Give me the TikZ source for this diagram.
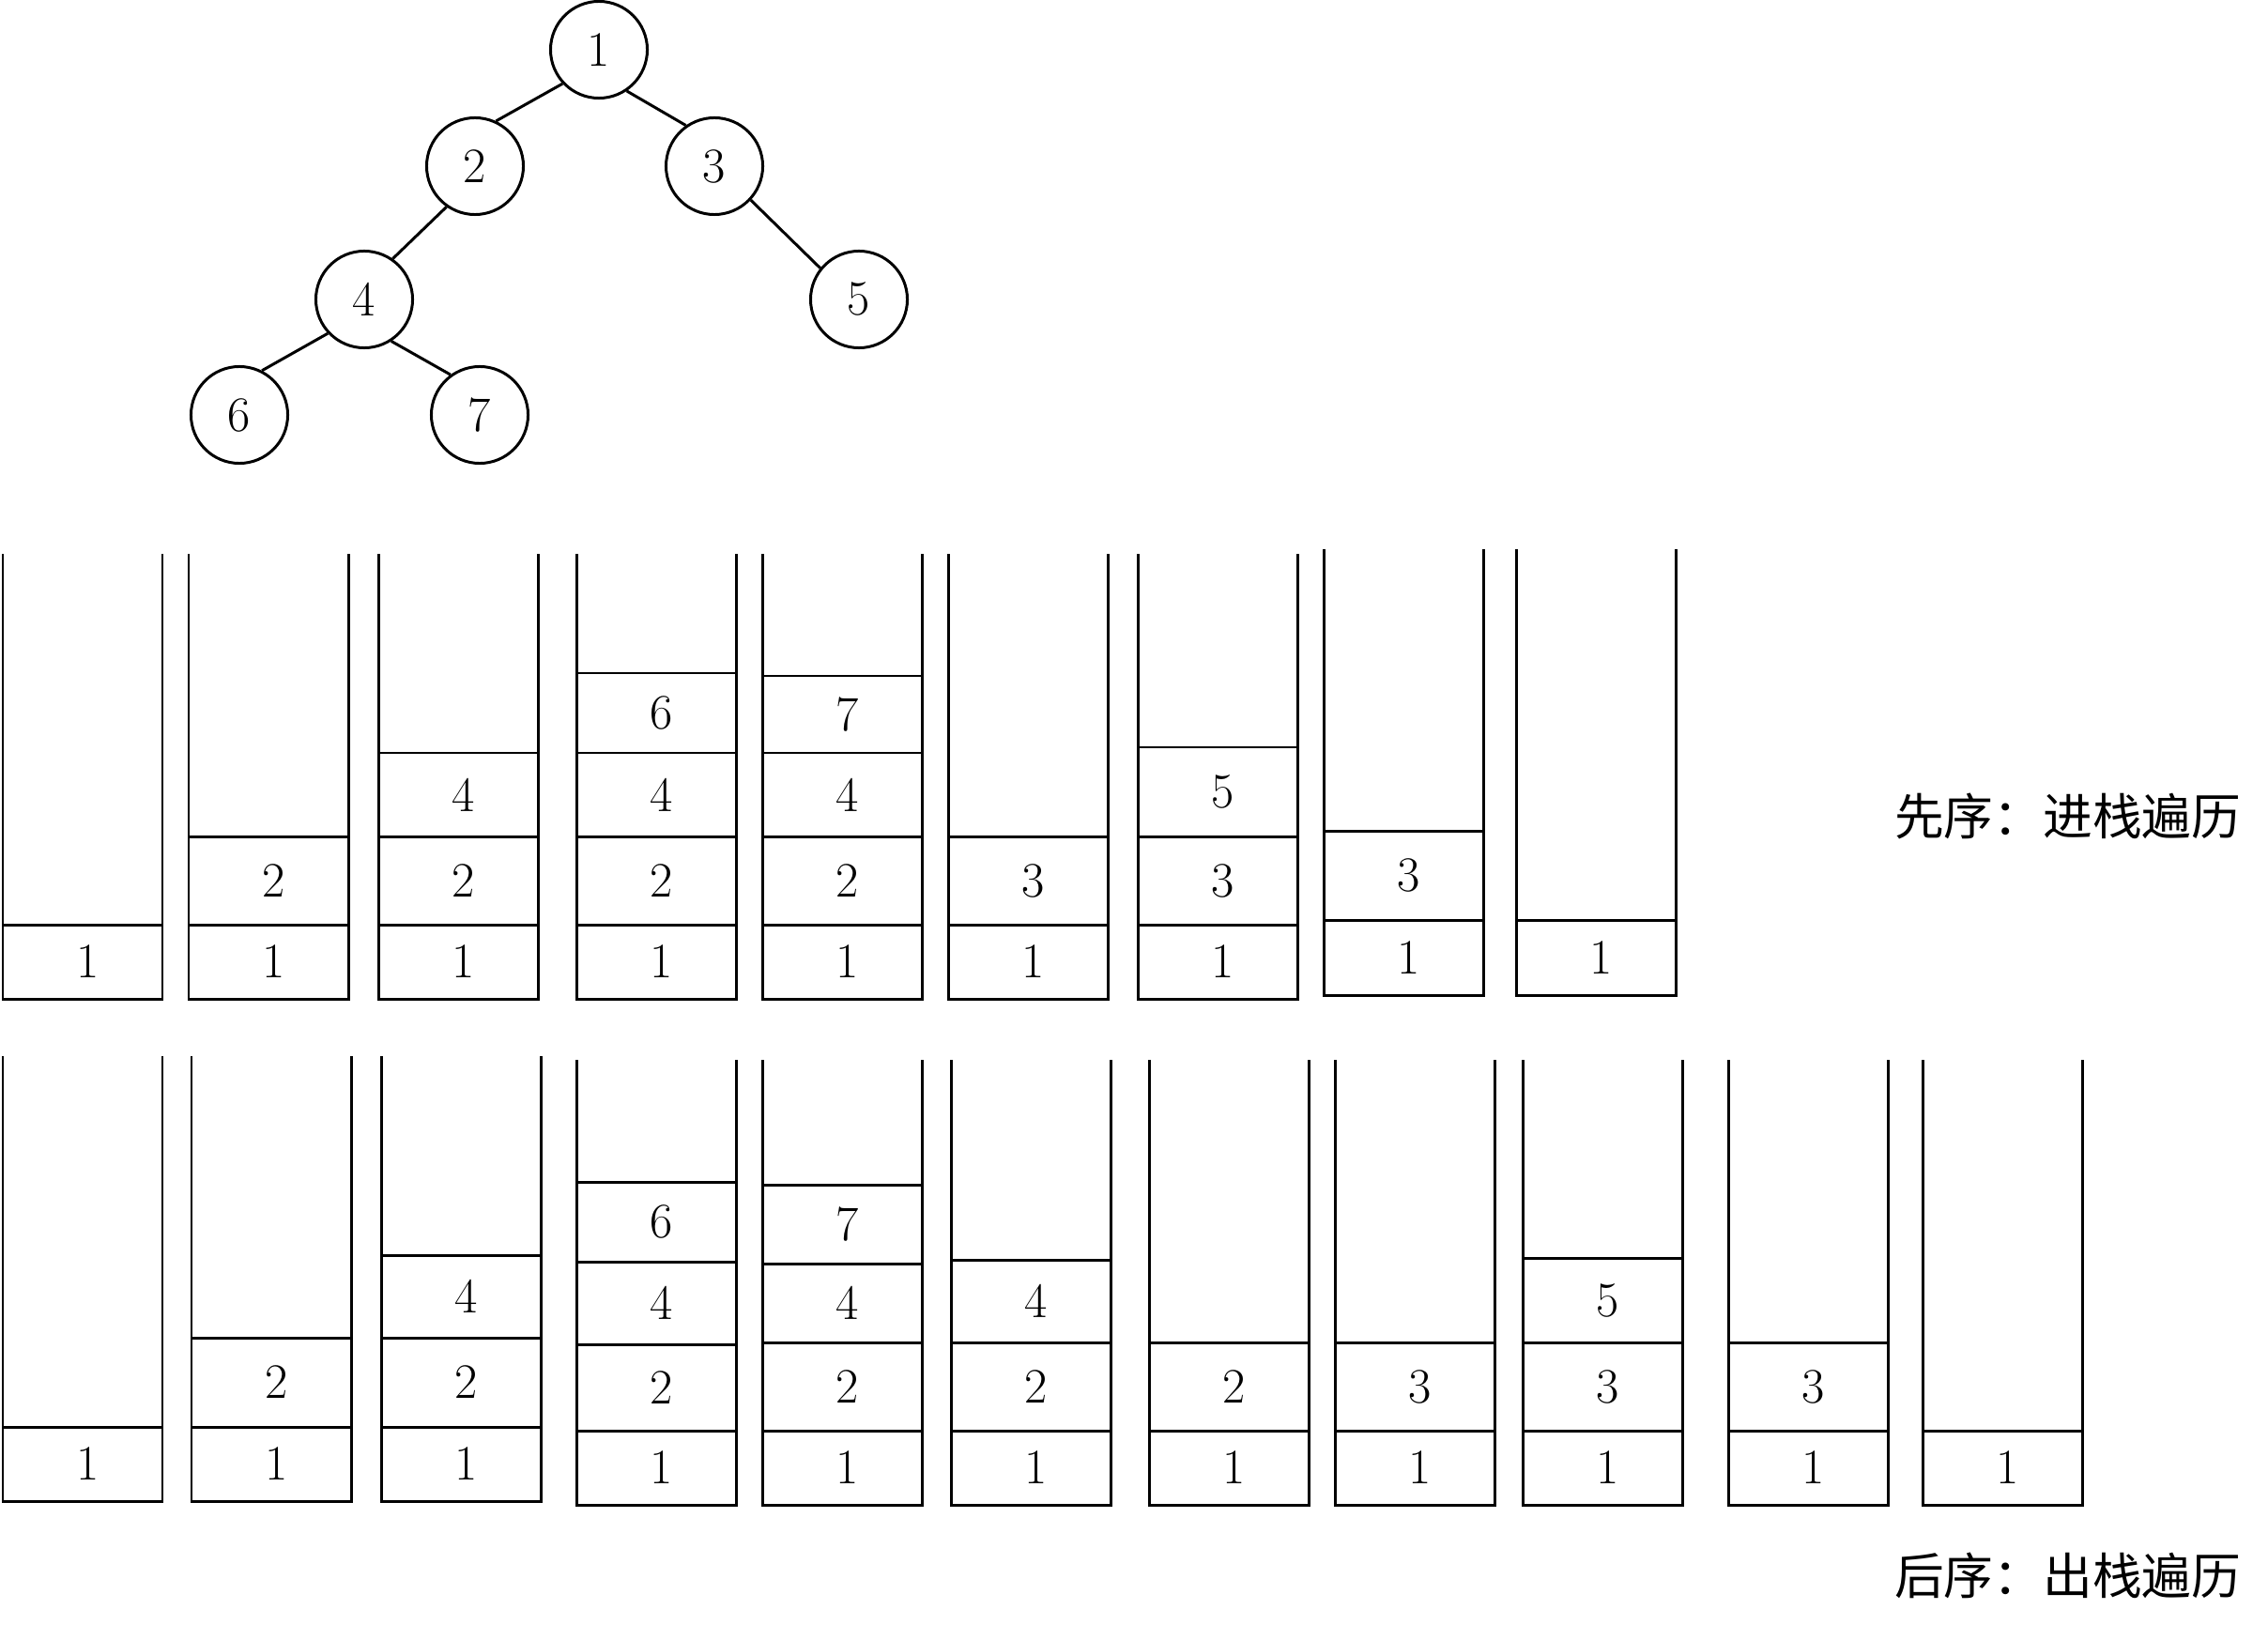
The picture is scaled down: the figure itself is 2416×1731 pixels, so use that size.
\documentclass[tikz,border=0pt]{standalone}
\usepackage{fontspec}
\newfontfamily\cjk{Noto Sans CJK SC}
\usetikzlibrary{calc}
\tikzset{
    vertex/.style = {circle,
                    fill=white,
                    draw=black,
                    text=black,
                    line width=0.85pt,
                    inner sep=0pt,
                    minimum size=1.03cm,
                    font=\fontsize{15}{18}\selectfont},
    num/.style =    {inner sep=0pt,
                    text=black,
                    font=\fontsize{15}{18}\selectfont},
    wall/.style =   {draw=black,
                    line width=0.85pt},
    caption/.style ={anchor=east,
                    inner sep=0pt,
                    font=\cjk\fontsize{15}{18}\selectfont},
    -}
% #1 name, #2 left, #3 top, #4 bottom, #5 cells (top of cell/label)
\newcommand{\drawstack}[5]{%
    \draw[wall] (#2,#3) -- (#2,#4) -- (#2+170,#4) -- (#2+170,#3);
    \foreach \yt/\lab [count=\k, remember=\yt as \yb (initially #4)] in {#5} {
        \draw[wall] (#2,\yt) -- (#2+170,\yt);
        \node[num] (#1-\k) at (#2+91,{(\yb+\yt)/2}) {\lab};
    }
}
\begin{document}
\begin{tikzpicture}[x=0.01cm,y=-0.01cm]
        \useasboundingbox (0,0) rectangle (2416,1731);
                % tree
                \node[vertex]       (n1) at (638,53)    {1};
                \node[vertex]       (n2) at (506,177)   {2};
                \node[vertex]       (n3) at (761,177)   {3};
                \node[vertex]       (n4) at (388,319)   {4};
                \node[vertex]       (n5) at (915,319)   {5};
                \node[vertex]       (n6) at (255,442)   {6};
                \node[vertex]       (n7) at (511,442)   {7};
                \draw[wall] (n1.223) -- (n2.65);
                \draw[wall] (n1.304) -- (n3.125);
                \draw[wall] (n2.235) -- (n4.55);
                \draw[wall] (n3.317) -- (n5.141);
                \draw[wall] (n4.223) -- (n6.63);
                \draw[wall] (n4.303) -- (n7.126);
                % preorder: push
                \drawstack{p1}{3}{590}{1064}{985/1}
                \drawstack{p2}{201}{590}{1064}{985/1,891/2}
                \drawstack{p3}{403}{590}{1064}{985/1,891/2,802/4}
                \drawstack{p4}{614}{590}{1064}{985/1,891/2,802/4,717/6}
                \drawstack{p5}{812}{590}{1064}{985/1,891/2,802/4,720/7}
                \drawstack{p6}{1010}{590}{1064}{985/1,891/3}
                \drawstack{p7}{1212}{590}{1064}{985/1,891/3,796/5}
                \drawstack{p8}{1410}{585}{1060}{980/1,885/3}
                \drawstack{p9}{1615}{585}{1060}{980/1}
                \node[caption] (pre) at (2388,869) {先序：进栈遍历};
                % postorder: pop
                \drawstack{q1}{3}{1125}{1599}{1520/1}
                \drawstack{q2}{204}{1125}{1599}{1520/1,1425/2}
                \drawstack{q3}{406}{1125}{1599}{1520/1,1425/2,1337/4}
                \drawstack{q4}{614}{1129}{1603}{1524/1,1432/2,1344/4,1259/6}
                \drawstack{q5}{812}{1129}{1603}{1524/1,1430/2,1346/4,1262/7}
                \drawstack{q6}{1013}{1129}{1603}{1524/1,1430/2,1342/4}
                \drawstack{q7}{1224}{1129}{1603}{1524/1,1430/2}
                \drawstack{q8}{1422}{1129}{1603}{1524/1,1430/3}
                \drawstack{q9}{1622}{1129}{1603}{1524/1,1430/3,1340/5}
                \drawstack{q10}{1841}{1129}{1603}{1524/1,1430/3}
                \drawstack{q11}{2048}{1129}{1603}{1524/1}
                \node[caption] (post) at (2388,1678) {后序：出栈遍历};
        \end{tikzpicture}
\end{document}
